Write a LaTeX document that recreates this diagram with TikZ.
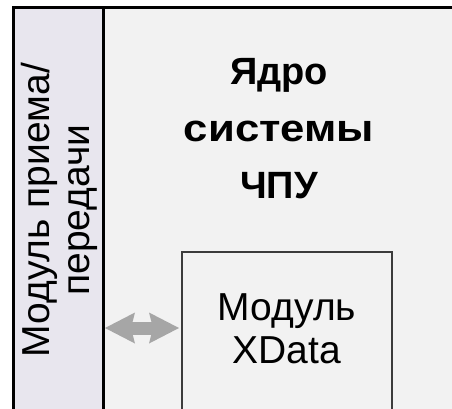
\documentclass[tikz,border=0pt]{standalone}
\usepackage{fontspec}
\setmainfont{Liberation Sans}
\usetikzlibrary{arrows.meta}
\definecolor{coreFill}{HTML}{F2F2F2}
\definecolor{ioFill}{HTML}{E8E6EE}
\definecolor{linkGray}{HTML}{A6A6A6}
\definecolor{boxEdge}{HTML}{3C3C3C}
\begin{document}
\begin{tikzpicture}[x=1pt,y=-1pt,
  region/.style={draw=black, line width=3pt, anchor=north west, inner sep=0pt, outer sep=0pt},
  subbox/.style={draw=boxEdge, line width=2pt, fill=coreFill, anchor=north west, inner sep=0pt, outer sep=0pt},
  link/.style={draw=linkGray, line width=13pt,
    {Stealth[length=30pt,width=31pt,inset=4pt,line width=0pt]}-{Stealth[length=30pt,width=31pt,inset=4pt,line width=0pt]}},
  caption/.style={inner sep=0pt, align=center}]
\useasboundingbox (0,0) rectangle (452,408);
\clip (0,0) rectangle (452,408);
\fill[white] (0,0) rectangle (452,408);

% CNC core area and the I/O module column
\node[region, fill=coreFill, minimum width=470pt, minimum height=425pt] (core) at (13,7.5) {};
\node[region, fill=ioFill, minimum width=90pt, minimum height=425pt] (io) at (13,7.5) {};

% XData module inside the core
\node[subbox, minimum width=210pt, minimum height=180pt] (xd) at (182,252) {};

% data exchange between I/O module and XData
\coordinate (lane) at (0,328);
\draw[link, shorten <=2pt, shorten >=3pt] (io.east |- lane) -- (xd.west |- lane);

% labels
\node[caption, anchor=north, font=\fontsize{38}{57}\selectfont\bfseries] (coretitle) at (279,58)
  {Ядро\\\scalebox{1.15}[1]{системы}\\ЧПУ};
\node[caption, anchor=north, font=\fontsize{39}{43}\selectfont] (xdtitle) at (287,293)
  {Модуль\\XData};
\node[caption, rotate=90, font=\fontsize{39}{40}\selectfont] (iotitle) at (59,210)
  {Модуль приема/\\передачи};
\end{tikzpicture}
\end{document}
